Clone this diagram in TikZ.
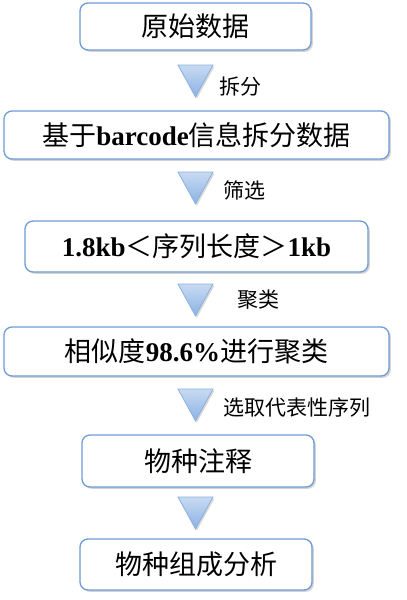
\documentclass[tikz,border=0pt]{standalone}
\usepackage{fontspec}
\setmainfont{Liberation Serif}
\newfontfamily\cjk{Noto Sans CJK SC}
\usetikzlibrary{shadows}
\definecolor{vienxanh}{RGB}{110,156,214}
\definecolor{tamgiactren}{RGB}{200,218,242}
\definecolor{tamgiacduoi}{RGB}{138,178,227}
\tikzset{
  stepbox/.style={draw=vienxanh,line width=1.3pt,fill=white,rounded corners=8pt,
    drop shadow={shadow xshift=1.8pt,shadow yshift=-1.8pt,opacity=0.35,fill=gray},
    font=\fontsize{27}{30}\selectfont\bfseries,inner sep=0pt},
  downtri/.style={draw=vienxanh!80,line width=0.8pt,top color=tamgiactren,bottom color=tamgiacduoi,
    drop shadow={shadow xshift=1.5pt,shadow yshift=-1.5pt,opacity=0.3,fill=gray}},
  nhan/.style={anchor=west,inner sep=0pt,font=\fontsize{21}{24}\selectfont\cjk}
}
\begin{document}
\begin{tikzpicture}[x=1pt,y=-1pt]
			\useasboundingbox (0,0) rectangle (407,600);
			% cac buoc
			\node[stepbox,minimum width=231,minimum height=47] (raw) at (195.5,26.5) {{\cjk\mdseries 原始数据}};
			\node[stepbox,minimum width=385,minimum height=48] (split) at (196.5,135) {{\cjk\mdseries 基于}barcode{\cjk\mdseries 信息拆分数据}};
			\node[stepbox,minimum width=343,minimum height=51] (filter) at (196.5,246.5) {1.8kb{\cjk\mdseries ＜序列长度＞}1kb};
			\node[stepbox,minimum width=385,minimum height=49] (cluster) at (196.5,351.5) {{\cjk\mdseries 相似度}98.6\%{\cjk\mdseries 进行聚类}};
			\node[stepbox,minimum width=232,minimum height=52] (annot) at (198,461) {{\cjk\mdseries 物种注释}};
			\node[stepbox,minimum width=232,minimum height=51] (comp) at (196,564.5) {{\cjk\mdseries 物种组成分析}};
			
			% tam giac
			\foreach \y in {65,172,284,389,497}
			\draw[downtri] (178,\y) -- (213,\y) -- (195.5,\y+32) -- cycle;
			
			\node[nhan] (l1) at (219,87) {拆分};
			\node[nhan] (l2) at (223,190) {筛选};
			\node[nhan] (l3) at (237,300) {聚类};
			\node[nhan] (l4) at (223,408) {选取代表性序列};
		\end{tikzpicture}
\end{document}
